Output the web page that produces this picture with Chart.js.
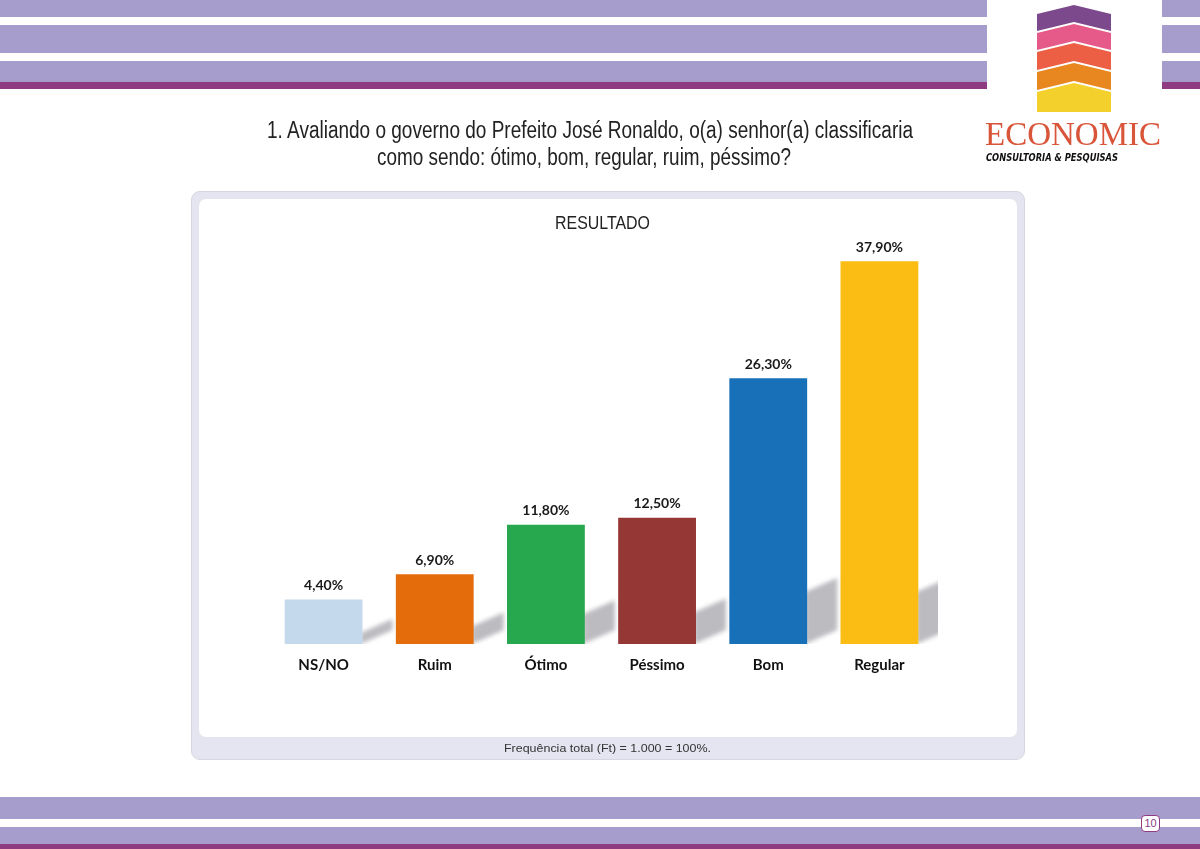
<!DOCTYPE html>
<html>
<head>
<meta charset="utf-8">
<script src="https://cdn.jsdelivr.net/npm/chart.js@4"></script>
<style>
  html, body { margin: 0; padding: 0; background: #fff; }
  #page { position: relative; width: 1200px; height: 849px; overflow: hidden; background: #fff; }
  .band { position: absolute; }
  .lav { background: #a69dcc; }
  .pur { background: #8e3b82; }
  #painel { position: absolute; left: 191px; top: 191px; width: 832px; height: 567px;
    background: #e5e5f1; border: 1px solid #d6d6e2; border-radius: 9px; }
  #branco { position: absolute; left: 199px; top: 199px; width: 818px; height: 538px;
    background: #fff; border-radius: 7px; }
  #pagina { position: absolute; left: 1141px; top: 815px; width: 17px; height: 15px; background: #fff;
    border: 1px solid #8e3b82; border-radius: 4px; text-align: center; font-family: "Liberation Sans", sans-serif;
    font-size: 11px; line-height: 15px; color: #8e3b82; }
  #grafico { position: absolute; left: 200px; top: 200px; }
  svg.txt { position: absolute; left: 0; top: 0; }
</style>
</head>
<body>
<div id="page">
  <!-- faixas superiores -->
  <div class="band lav" style="left:0;top:0;width:987px;height:17px"></div>
  <div class="band lav" style="left:0;top:25px;width:987px;height:28px"></div>
  <div class="band lav" style="left:0;top:61px;width:987px;height:21px"></div>
  <div class="band pur" style="left:0;top:82px;width:987px;height:7px"></div>
  <div class="band lav" style="left:1162px;top:0;width:38px;height:17px"></div>
  <div class="band lav" style="left:1162px;top:25px;width:38px;height:28px"></div>
  <div class="band lav" style="left:1162px;top:61px;width:38px;height:21px"></div>
  <div class="band pur" style="left:1162px;top:82px;width:38px;height:7px"></div>

  <div id="painel"></div>
  <div id="branco"></div>
  <canvas id="grafico" width="817" height="537"></canvas>

  <!-- logo e textos -->
  <svg class="txt" width="1200" height="849">
    <polygon points="1037,14 1074,5 1111,14 1111,31 1074,22 1037,31" fill="#7c4a8c"/>
    <polygon points="1037,33 1074,24 1111,33 1111,50 1074,41 1037,50" fill="#e65a8a"/>
    <polygon points="1037,52 1074,43 1111,52 1111,70 1074,61 1037,70" fill="#ec5f45"/>
    <polygon points="1037,72 1074,63 1111,72 1111,90 1074,81 1037,90" fill="#e8861f"/>
    <polygon points="1037,92 1074,83 1111,92 1111,112 1037,112" fill="#f4d02c"/>
    <text x="985" y="145" font-family="Liberation Serif, serif" font-size="34" fill="#d9553a"
      textLength="176" lengthAdjust="spacingAndGlyphs">ECONOMIC</text>
    <text x="986" y="161" font-family="DejaVu Sans, sans-serif" font-size="10" font-style="italic"
      font-weight="bold" fill="#111" textLength="132" lengthAdjust="spacingAndGlyphs">CONSULTORIA &amp; PESQUISAS</text>

    <text x="267" y="138" font-family="Liberation Sans, sans-serif" font-size="23" fill="#222"
      textLength="646" lengthAdjust="spacingAndGlyphs">1. Avaliando o governo do Prefeito José Ronaldo, o(a) senhor(a) classificaria</text>
    <text x="377" y="165" font-family="Liberation Sans, sans-serif" font-size="23" fill="#222"
      textLength="414" lengthAdjust="spacingAndGlyphs">como sendo: ótimo, bom, regular, ruim, péssimo?</text>
    <text x="555" y="229" font-family="Liberation Sans, sans-serif" font-size="18" fill="#222"
      textLength="95" lengthAdjust="spacingAndGlyphs">RESULTADO</text>
    <text x="504" y="752" font-family="Liberation Sans, sans-serif" font-size="11" fill="#333"
      textLength="207" lengthAdjust="spacingAndGlyphs">Frequência total (Ft) = 1.000 = 100%.</text>
  </svg>

  <!-- faixas inferiores -->
  <div class="band lav" style="left:0;top:797px;width:1200px;height:22px"></div>
  <div class="band lav" style="left:0;top:827px;width:1200px;height:17px"></div>
  <div class="band pur" style="left:0;top:844px;width:1200px;height:5px"></div>
  <div id="pagina">10</div>
</div>

<script>
var categorias = ['NS/NO', 'Ruim', 'Ótimo', 'Péssimo', 'Bom', 'Regular'];
var valores = [4.4, 6.9, 11.8, 12.5, 26.3, 37.9];
var rotulos = ['4,40%', '6,90%', '11,80%', '12,50%', '26,30%', '37,90%'];
var cores = ['#c5d9ec', '#e46c0a', '#27a84f', '#953735', '#1770b8', '#fbbd13'];

// sombra cinza atras de cada barra
var sombras = {
  id: 'sombras',
  beforeDatasetsDraw: function (chart) {
    var ctx = chart.ctx;
    var area = chart.chartArea;
    var meta = chart.getDatasetMeta(0);
    ctx.save();
    ctx.beginPath();
    ctx.rect(area.left, area.top - 20, area.right - area.left + 3, area.bottom - area.top + 20);
    ctx.clip();
    ctx.filter = 'blur(2px)';
    ctx.fillStyle = 'rgba(170,170,176,0.8)';
    meta.data.forEach(function (bar) {
      var dir = bar.x + bar.width / 2;
      var h = Math.min((bar.base - bar.y) * 0.25, 52);
      ctx.beginPath();
      ctx.moveTo(dir - 2, bar.base);
      ctx.lineTo(dir + 30, bar.base - 14);
      ctx.lineTo(dir + 30, bar.base - 14 - h);
      ctx.lineTo(dir - 2, bar.base - h);
      ctx.closePath();
      ctx.fill();
    });
    ctx.restore();
  }
};

// valores em cima das barras
var valoresTopo = {
  id: 'valoresTopo',
  afterDatasetsDraw: function (chart) {
    var ctx = chart.ctx;
    var meta = chart.getDatasetMeta(0);
    ctx.save();
    ctx.font = 'bold 14px Lato, sans-serif';
    ctx.fillStyle = '#1a1a1a';
    ctx.textAlign = 'center';
    ctx.textBaseline = 'bottom';
    meta.data.forEach(function (bar, i) {
      ctx.fillText(rotulos[i], bar.x, bar.y - 7);
    });
    ctx.restore();
  }
};

var ctx = document.getElementById('grafico').getContext('2d');
var grafico = new Chart(ctx, {
  type: 'bar',
  data: {
    labels: categorias,
    datasets: [{
      data: valores,
      backgroundColor: cores,
      borderWidth: 0,
      categoryPercentage: 1,
      barPercentage: 0.7
    }]
  },
  options: {
    responsive: false,
    animation: false,
    layout: { padding: { left: 68, right: 82, top: 40, bottom: 51 } },
    plugins: { legend: { display: false }, tooltip: { enabled: false } },
    scales: {
      y: { display: false, min: 0, max: 40 },
      x: {
        grid: { display: false, drawTicks: false },
        border: { display: false },
        ticks: { color: '#111', padding: 12, font: { family: 'Lato, sans-serif', weight: 'bold', size: 15 } }
      }
    }
  },
  plugins: [sombras, valoresTopo]
});
</script>
</body>
</html>
